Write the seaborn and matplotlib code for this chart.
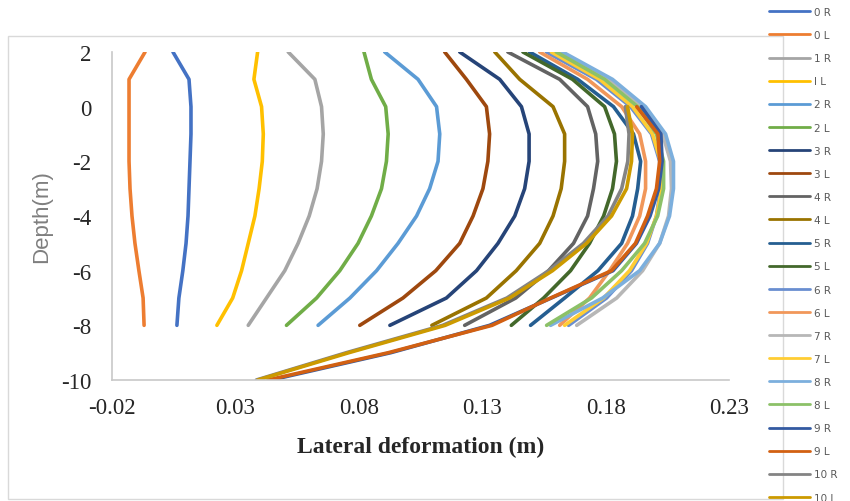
import pandas as pd
import seaborn as sns
import matplotlib.pyplot as plt
from matplotlib.patches import Rectangle

# depth levels (m)
depth_top = [2, 1, 0, -1, -2, -3, -4, -5, -6, -7, -8]
depth_low = [0, -1, -2, -3, -4, -5, -6, -7, -8, -9, -10]

# lateral deformation (m)
x_0R = [0.0047, 0.0112, 0.0120, 0.0120, 0.0116, 0.0112, 0.0108, 0.0100, 0.0087, 0.0071, 0.0063]
x_0L = [-0.0066, -0.0131, -0.0131, -0.0131, -0.0131, -0.0127, -0.0119, -0.0107, -0.0091, -0.0074, -0.0070]
x_1R = [0.0514, 0.0622, 0.0649, 0.0656, 0.0649, 0.0631, 0.0599, 0.0554, 0.0500, 0.0426, 0.0352]
x_1L = [0.0390, 0.0375, 0.0406, 0.0413, 0.0409, 0.0396, 0.0379, 0.0352, 0.0325, 0.0289, 0.0225]
x_2R = [0.0905, 0.1040, 0.1115, 0.1128, 0.1121, 0.1087, 0.1034, 0.0959, 0.0872, 0.0764, 0.0635]
x_2L = [0.0821, 0.0851, 0.0909, 0.0919, 0.0912, 0.0892, 0.0851, 0.0797, 0.0723, 0.0629, 0.0507]
x_3R = [0.1209, 0.1371, 0.1459, 0.1490, 0.1490, 0.1472, 0.1432, 0.1364, 0.1277, 0.1155, 0.0926]
x_3L = [0.1148, 0.1236, 0.1317, 0.1330, 0.1323, 0.1303, 0.1263, 0.1209, 0.1112, 0.0979, 0.0804]
x_4R = [0.1404, 0.1614, 0.1727, 0.1760, 0.1768, 0.1751, 0.1727, 0.1670, 0.1569, 0.1436, 0.1229]
x_4L = [0.1351, 0.1452, 0.1587, 0.1634, 0.1634, 0.1620, 0.1587, 0.1533, 0.1438, 0.1317, 0.1096]
x_5R = [0.1492, 0.1687, 0.1832, 0.1913, 0.1942, 0.1930, 0.1909, 0.1865, 0.1769, 0.1634, 0.1496]
x_5L = [0.1465, 0.1666, 0.1796, 0.1836, 0.1844, 0.1828, 0.1792, 0.1735, 0.1658, 0.1549, 0.1418]
x_6R = [0.1560, 0.1763, 0.1901, 0.1986, 0.2019, 0.2023, 0.2006, 0.1970, 0.1905, 0.1804, 0.1650]
x_6L = [0.1533, 0.1727, 0.1865, 0.1938, 0.1962, 0.1962, 0.1938, 0.1889, 0.1816, 0.1735, 0.1614]
x_7R = [0.1614, 0.1816, 0.1950, 0.2031, 0.2063, 0.2067, 0.2055, 0.2019, 0.1950, 0.1845, 0.1683]
x_7L = [0.1580, 0.1776, 0.1909, 0.1990, 0.2023, 0.2027, 0.2006, 0.1966, 0.1897, 0.1792, 0.1634]
x_8R = [0.1626, 0.1828, 0.1962, 0.2043, 0.2075, 0.2075, 0.2059, 0.2019, 0.1938, 0.1788, 0.1577]
x_8L = [0.1600, 0.1796, 0.1930, 0.2006, 0.2035, 0.2035, 0.2011, 0.1958, 0.1865, 0.1743, 0.1561]
x_9R = [0.1945, 0.2024, 0.2029, 0.2015, 0.1980, 0.1925, 0.1830, 0.1580, 0.1330, 0.0930, 0.0445]
x_9L = [0.1926, 0.2012, 0.2019, 0.2006, 0.1970, 0.1921, 0.1824, 0.1577, 0.1340, 0.0920, 0.0432]
x_10R = [0.1880, 0.1895, 0.1890, 0.1865, 0.1810, 0.1710, 0.1570, 0.1400, 0.1140, 0.0750, 0.0385]
x_10L = [0.1889, 0.1909, 0.1905, 0.1885, 0.1824, 0.1723, 0.1585, 0.1411, 0.1150, 0.0760, 0.0391]

labels = ['0 R', '0 L', '1 R', 'I L', '2 R', '2 L', '3 R', '3 L', '4 R', '4 L', '5 R',
          '5 L', '6 R', '6 L', '7 R', '7 L', '8 R', '8 L', '9 R', '9 L', '10 R', '10 L']
values = [x_0R, x_0L, x_1R, x_1L, x_2R, x_2L, x_3R, x_3L, x_4R, x_4L, x_5R,
          x_5L, x_6R, x_6L, x_7R, x_7L, x_8R, x_8L, x_9R, x_9L, x_10R, x_10L]
colors = ['#4472C4', '#ED7D31', '#A5A5A5', '#FFC000', '#5B9BD5', '#70AD47',
          '#264478', '#9E480E', '#636363', '#997300', '#255E91', '#43682B',
          '#698ED0', '#F1975A', '#B7B7B7', '#FFCD33', '#7CAFDD', '#8CC168',
          '#335AA1', '#D26012', '#848484', '#CC9A00']

rows = []
for lab, xs in zip(labels, values):
    ds = depth_low if lab in ('9 R', '9 L', '10 R', '10 L') else depth_top
    for x, d in zip(xs, ds):
        rows.append({'series': lab, 'deformation': x, 'depth': d})
df = pd.DataFrame(rows)

sns.set_style('white')
plt.rcParams['axes.unicode_minus'] = False

fig = plt.figure(figsize=(8.5, 5.02), dpi=100)
ax = fig.add_axes([112 / 850, 1 - 381 / 502, 617 / 850, 328 / 502])

sns.lineplot(data=df, x='deformation', y='depth', hue='series', hue_order=labels,
             palette=colors, sort=False, estimator=None, linewidth=2.6, ax=ax)

ax.set_xlim(-0.02, 0.23)
ax.set_ylim(-10, 2)
xt = [-0.02, 0.03, 0.08, 0.13, 0.18, 0.23]
ax.set_xticks(xt)
ax.set_xticklabels([f'{v:.2f}' for v in xt])
ax.set_yticks(range(-10, 3, 2))
ax.set_yticklabels([str(v) for v in range(-10, 3, 2)])
ax.tick_params(axis='both', length=0, labelsize=16.5)
ax.tick_params(axis='y', pad=15)
ax.tick_params(axis='x', pad=12)
for t in ax.get_xticklabels() + ax.get_yticklabels():
    t.set_fontfamily('Liberation Serif')

for s in ['top', 'right']:
    ax.spines[s].set_visible(False)
for s in ['left', 'bottom']:
    ax.spines[s].set_color('#C8C8C8')
    ax.spines[s].set_linewidth(1.2)

ax.set_xlabel('Lateral deformation (m)', fontfamily='Liberation Serif',
              fontweight='bold', fontsize=17)
ax.xaxis.set_label_coords(0.5, -0.17)
ax.set_ylabel('Depth(m)', fontfamily='Liberation Sans', fontsize=16, color='#7F7F7F')
ax.yaxis.set_label_coords(-0.097, 0.5)

# chart frame
fig.patches.append(Rectangle((8 / 850, 1 - 500 / 502), 775 / 850, 463 / 502,
                             transform=fig.transFigure, fill=False,
                             edgecolor='#D9D9D9', linewidth=1))

ax.get_legend().remove()
handles, labs = ax.get_legend_handles_labels()
leg = fig.legend(handles, labs, loc='upper left',
                 bbox_to_anchor=(769 / 850, 1 - 8 / 502),
                 frameon=False, fontsize=7.5, handlelength=3.9,
                 handletextpad=0.38, labelspacing=1.26, borderpad=0,
                 borderaxespad=0)
for t in leg.get_texts():
    t.set_color('#595959')
for h in leg.get_lines():
    h.set_linewidth(2)

fig.savefig('out.png', dpi=100)
